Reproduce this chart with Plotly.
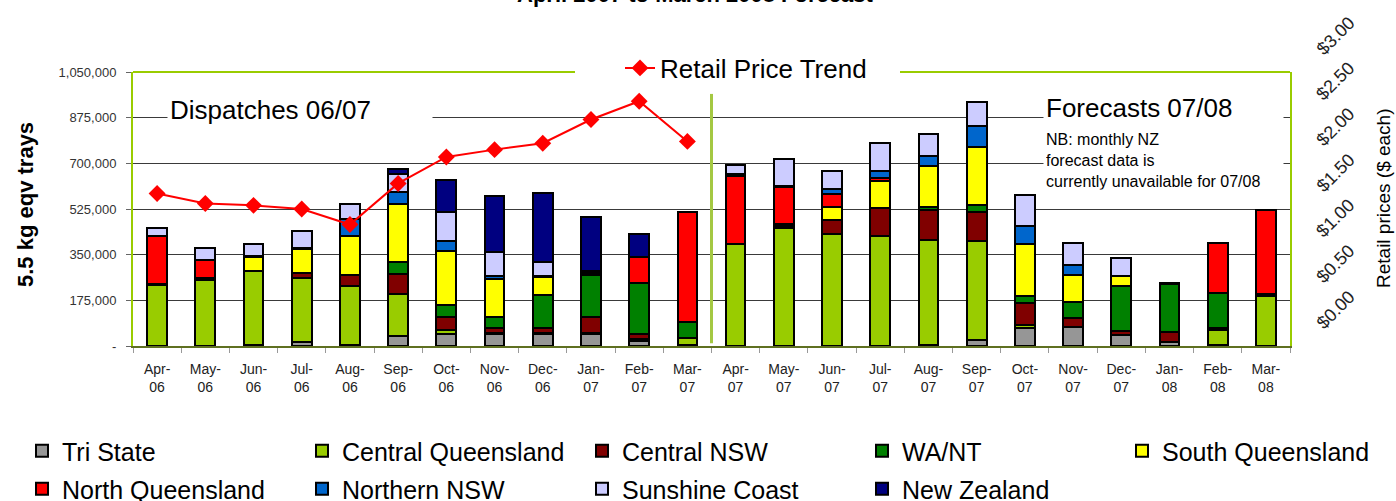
import plotly.graph_objects as go

# ---------------- data ----------------
months = ["Apr-06", "May-06", "Jun-06", "Jul-06", "Aug-06", "Sep-06", "Oct-06", "Nov-06",
          "Dec-06", "Jan-07", "Feb-07", "Mar-07",
          "Apr-07", "May-07", "Jun-07", "Jul-07", "Aug-07", "Sep-07", "Oct-07", "Nov-07",
          "Dec-07", "Jan-08", "Feb-08", "Mar-08"]

tri_state = [0, 0, 5000, 16000, 5000, 38000, 46000, 46000, 46000, 46000, 20000, 5000,
             0, 0, 0, 0, 5000, 23000, 68000, 74000, 42000, 14000, 5000, 0]
central_qld = [233000, 253000, 281000, 243000, 224000, 161000, 15000, 3000, 3000, 3000, 8000, 26000,
               391000, 451000, 428000, 422000, 400000, 378000, 13000, 0, 0, 0, 55000, 192000]
central_nsw = [5000, 8000, 0, 22000, 45000, 77000, 52000, 19000, 19000, 64000, 19000, 0,
               0, 8000, 54000, 106000, 115000, 112000, 83000, 35000, 15000, 38000, 8000, 8000]
wa_nt = [0, 0, 0, 0, 0, 47000, 45000, 45000, 128000, 158000, 195000, 61000,
         0, 0, 0, 0, 14000, 29000, 26000, 59000, 174000, 187000, 134000, 0]
south_qld = [0, 0, 55000, 89000, 148000, 221000, 207000, 143000, 70000, 10000, 0, 0,
             0, 10000, 49000, 106000, 157000, 220000, 202000, 105000, 38000, 0, 0, 0]
north_qld = [184000, 70000, 0, 0, 0, 0, 0, 0, 0, 0, 100000, 422000,
             262000, 139000, 52000, 8000, 0, 0, 0, 0, 0, 0, 192000, 322000]
northern_nsw = [0, 0, 4000, 6000, 64000, 45000, 38000, 14000, 3000, 0, 0, 0,
                8000, 6000, 17000, 28000, 38000, 83000, 66000, 38000, 0, 0, 0, 0]
sunshine_coast = [32000, 46000, 47000, 64000, 60000, 69000, 109000, 89000, 54000, 5000, 0, 0,
                  32000, 101000, 69000, 109000, 83000, 89000, 119000, 83000, 70000, 0, 0, 0]
new_zealand = [0, 0, 0, 0, 0, 19000, 124000, 217000, 262000, 208000, 86000, 0,
               0, 0, 0, 0, 0, 0, 0, 0, 0, 4000, 0, 0]

retail_price = [1.67, 1.56, 1.54, 1.50, 1.33, 1.78, 2.07, 2.15, 2.22, 2.48, 2.68, 2.24]
price_months = months[:12]

series_names = ["Tri State", "Central Queensland", "Central NSW", "WA/NT", "South Queensland",
                "North Queensland", "Northern NSW", "Sunshine Coast", "New Zealand"]
series_values = [tri_state, central_qld, central_nsw, wa_nt, south_qld,
                 north_qld, northern_nsw, sunshine_coast, new_zealand]
series_colors = ["#969696", "#99cc00", "#800000", "#008000", "#ffff00",
                 "#ff0000", "#0066cc", "#ccccff", "#000080"]
# legend block each series is listed in (row 1, column 5, row 2)
series_legend = ["legend", "legend", "legend", "legend", "legend3",
                 "legend4", "legend4", "legend4", "legend4"]

left_ticks = [0, 175000, 350000, 525000, 700000, 875000, 1050000]
left_ticktext = ["-", "175,000", "350,000", "525,000", "700,000", "875,000", "1,050,000"]
right_ticks = [0, 0.5, 1.0, 1.5, 2.0, 2.5, 3.0]

# ---------------- layout geometry ----------------
W, H = 1396, 501
ML, MR, MT, MB = 133, 106, 72, 155
PW = W - ML - MR
PH = H - MT - MB
FONT = "Liberation Sans, Arial, sans-serif"
GREEN = "#99cc00"
LEG_X0 = 22
LEG_PITCH = 275


def fx(px):
    return (px - ML) / PW


def fy(py):
    return (H - MB - py) / PH


fig = go.Figure()

for name, vals, col, leg in zip(series_names, series_values, series_colors, series_legend):
    fig.add_trace(go.Bar(
        x=months, y=vals, name=name,
        marker=dict(color=col, line=dict(color="black", width=2)),
        legend=leg,
    ))

fig.add_trace(go.Scatter(
    x=price_months, y=retail_price, name="Retail Price Trend", yaxis="y2",
    mode="lines+markers",
    line=dict(color="#ff0000", width=2),
    marker=dict(symbol="diamond", size=13, color="#ff0000"),
    legend="legend2",
))

ticktext = [m.replace("-", "-<br>") for m in months]

leg_common = dict(orientation="h", xref="container", yref="container",
                  xanchor="left", yanchor="middle", entrywidth=LEG_PITCH - 40,
                  entrywidthmode="pixels", traceorder="normal",
                  font=dict(size=25, color="black", family=FONT),
                  bgcolor="rgba(0,0,0,0)")

fig.update_layout(
    width=W, height=H,
    margin=dict(l=ML, r=MR, t=MT, b=MB, autoexpand=False),
    paper_bgcolor="white", plot_bgcolor="white",
    barmode="stack", bargap=0.59,
    font=dict(family=FONT, color="black"),
    xaxis=dict(
        type="category", range=[-0.5, len(months) - 0.5],
        tickvals=months, ticktext=ticktext,
        tickfont=dict(size=14, color="#222222"),
        ticks="outside", tickson="boundaries", ticklen=5, tickcolor="#999999",
        ticklabelstandoff=9,
        showline=True, linecolor="#5f7020", linewidth=2,
        showgrid=False,
    ),
    yaxis=dict(
        range=[0, 1050000], tickvals=left_ticks, ticktext=left_ticktext,
        tickfont=dict(size=13, color="#333333"),
        ticks="outside", ticklen=5, tickcolor="#666666",
        ticklabelstandoff=7,
        showgrid=True, gridcolor="#3a3a3a", gridwidth=1,
        showline=True, linecolor=GREEN, linewidth=2,
        zeroline=False,
    ),
    yaxis2=dict(
        range=[0, 3.0], overlaying="y", side="right",
        tickvals=right_ticks, showticklabels=False,
        showgrid=False, zeroline=False,
        showline=True, linecolor=GREEN, linewidth=2,
        ticks="",
    ),
    legend=dict(leg_common, x=LEG_X0 / W, y=(H - 451) / H),
    legend3=dict(leg_common, x=(LEG_X0 + 4 * LEG_PITCH) / W, y=(H - 451) / H),
    legend4=dict(leg_common, x=LEG_X0 / W, y=(H - 489) / H),
    legend2=dict(
        orientation="h", xref="container", yref="container",
        x=620 / W, y=(H - 68) / H, xanchor="left", yanchor="middle",
        font=dict(size=26, color="black", family=FONT),
        bgcolor="white",
    ),
    showlegend=True,
)

# plot border (top edge broken by the price-trend legend)
fig.add_shape(type="line", xref="paper", yref="paper", x0=0, x1=fx(575), y0=1, y1=1,
              line=dict(color=GREEN, width=2))
fig.add_shape(type="line", xref="paper", yref="paper", x0=fx(900), x1=1, y0=1, y1=1,
              line=dict(color=GREEN, width=2))

# separator between actual dispatches and forecasts
sep_x = len(price_months) - 0.5
fig.add_shape(type="line", xref="x", yref="paper", x0=sep_x, x1=sep_x, y0=0.01, y1=0.92,
              line=dict(color="#a4c842", width=3))

annotations = [
    dict(text="<b>April 2007 to March 2008 Forecast</b>", xref="paper", yref="paper",
         x=fx(695), y=fy(-5), xanchor="center", yanchor="middle", showarrow=False,
         font=dict(size=22, color="black")),
    dict(text="<b>5.5 kg eqv trays</b>", xref="paper", yref="paper",
         x=fx(25), y=fy(205), xanchor="center", yanchor="middle", textangle=-90,
         showarrow=False, font=dict(size=22, color="black")),
    dict(text="Retail prices ($ each)", xref="paper", yref="paper",
         x=fx(1383), y=fy(198), xanchor="center", yanchor="middle", textangle=-90,
         showarrow=False, font=dict(size=19, color="black")),
    dict(text="Dispatches 06/07", xref="paper", yref="paper",
         x=fx(167), y=fy(110), xanchor="left", yanchor="middle", width=260, align="left",
         showarrow=False, bgcolor="white", borderpad=2, font=dict(size=26, color="black")),
    dict(text="Forecasts 07/08", xref="paper", yref="paper",
         x=fx(1043), y=fy(108), xanchor="left", yanchor="middle", width=235, align="left",
         showarrow=False, bgcolor="white", borderpad=2, font=dict(size=26, color="black")),
    dict(text="NB: monthly NZ<br>forecast data is<br>currently unavailable for 07/08",
         xref="paper", yref="paper",
         x=fx(1043), y=fy(160), xanchor="left", yanchor="middle", width=235, align="left",
         showarrow=False, bgcolor="white", borderpad=2, font=dict(size=16, color="black")),
]

# right-axis price labels, rotated, placed through the y2 scale
for v in right_ticks:
    annotations.append(dict(
        text=f"${v:.2f}", xref="paper", yref="y2", x=1, y=v,
        xanchor="left", yanchor="bottom", xshift=21, yshift=12, textangle=-45,
        showarrow=False, borderpad=0, font=dict(size=18, color="#222222"),
    ))

fig.update_layout(annotations=annotations)

fig.write_html(
    "out.html",
    config={"displayModeBar": False},
    post_script="document.body.style.margin='0';document.body.style.overflow='hidden';",
)
